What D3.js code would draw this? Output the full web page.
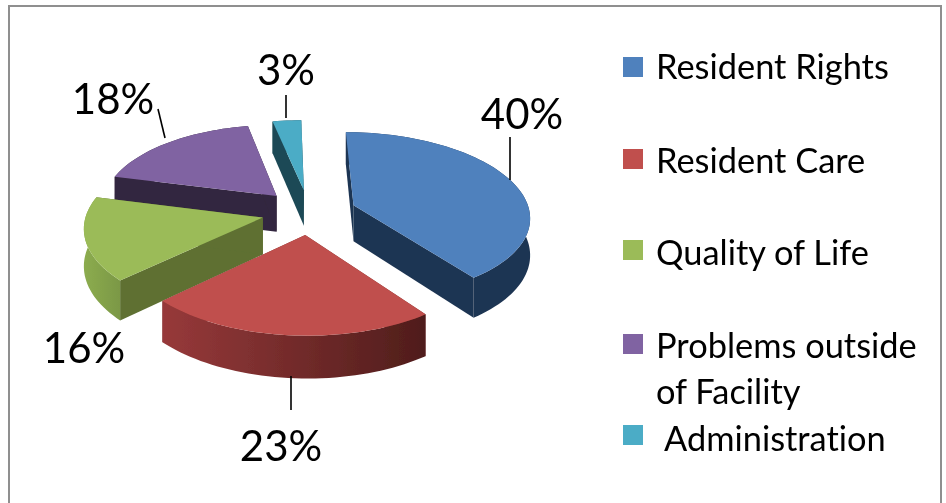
<!DOCTYPE html>
<html><head><meta charset="utf-8">
<script src="https://cdn.jsdelivr.net/npm/d3@7"></script>
<style>html,body{margin:0;padding:0;background:#fff;overflow:hidden}svg{display:block}text{font-family:Lato,"Open Sans",sans-serif;fill:#000;font-variant-ligatures:none}</style>
</head><body><div id="chart"></div>
<script>
const categories = ["Resident Rights","Resident Care","Quality of Life","Problems outside of Facility","Administration"];
const values = [40,23,16,18,3];
const tickLabels = ["40%","23%","16%","18%","3%"];
const topColors = ["#4f81bd","#c0504d","#9bbb59","#8064a2","#4bacc6"];
const innerWallColors = ["#1f3552","#7a2f2d","#5e7032","#33263f","#1f4a56"];
const outerWallLeft = ["#1f3552","#97393a","#8cac4f","#33263f","#1f4a56"];
const outerWallRight = ["#1f3552","#4f1d1b","#7b9845","#33263f","#1f4a56"];
const legendRows = [["Resident Rights"],["Resident Care"],["Quality of Life"],["Problems outside","of Facility"],[" Administration"]];

const W=946,H=503;
const svg=d3.select("#chart").append("svg").attr("width",W).attr("height",H);
const defs=svg.append("defs");
const soft=defs.append("filter").attr("id","soft").attr("filterUnits","userSpaceOnUse")
  .attr("x",0).attr("y",0).attr("width",W).attr("height",H);
soft.append("feGaussianBlur").attr("stdDeviation",0.45);

// frame
svg.append("path").attr("d","M9,503V6H941V503").attr("fill","none").attr("stroke","#8f8f8f").attr("stroke-width",2);

// pie layout
const pie=d3.pie().sort(null).value(d=>d).startAngle(0).endAngle(2*Math.PI);
const arcs=pie(values);
const x0=309,y0=212,A=176,B=83,k=0.117,shear=3,explode=0.27,depth=36.5;
function project(X,Y,z){const s=1/(1+k*Y);return [x0+A*X*s-shear*Y,y0-B*Y*s+z*depth*s];}
function rimPoints(a,z){
  const mid=(a.startAngle+a.endAngle)/2,ox=explode*Math.sin(mid),oy=explode*Math.cos(mid);
  const n=Math.max(4,Math.ceil((a.endAngle-a.startAngle)*30));
  const t=d3.scaleLinear().domain([0,n]).range([a.startAngle,a.endAngle]);
  return d3.range(n+1).map(i=>project(ox+Math.sin(t(i)),oy+Math.cos(t(i)),z));
}
function apex(a,z){const mid=(a.startAngle+a.endAngle)/2;return project(explode*Math.sin(mid),explode*Math.cos(mid),z);}
const line=d3.line();
const pieG=svg.append("g").attr("filter","url(#soft)");
// painter order: back slices to front slices
const order=[4,3,2,0,1];
order.forEach(i=>{
  const a=arcs[i],top=rimPoints(a,0),bot=rimPoints(a,1),ap=apex(a,0),ab=apex(a,1);
  const g=pieG.append("g");
  const gid="wall"+i,ext=d3.extent(top.concat(bot),d=>d[0]);
  const grad=defs.append("linearGradient").attr("id",gid).attr("gradientUnits","userSpaceOnUse")
    .attr("x1",ext[0]).attr("x2",ext[1]).attr("y1",0).attr("y2",0);
  grad.append("stop").attr("offset",0).attr("stop-color",outerWallLeft[i]);
  grad.append("stop").attr("offset",1).attr("stop-color",outerWallRight[i]);
  // inner walls
  [[ap,top[0],bot[0]],[ap,top[top.length-1],bot[bot.length-1]]].forEach(([p,q,qb])=>{
    g.append("path").attr("d",line([p,q,qb,ab])+"Z").attr("fill",innerWallColors[i]);
  });
  // outer wall
  g.append("path").attr("d",line(top.concat(bot.slice().reverse()))+"Z").attr("fill",`url(#${gid})`);
  // top
  g.append("path").attr("d",line([ap].concat(top))+"Z").attr("fill",topColors[i]);
});

// leader lines
const leaders=[[510,137,510,180],[291,376,291,410],[165,138,158,109],[286,118,286,95]];
svg.append("g").selectAll("line").data(leaders).join("line")
  .attr("x1",d=>d[0]).attr("y1",d=>d[1]).attr("x2",d=>d[2]).attr("y2",d=>d[3])
  .attr("stroke","#000").attr("stroke-width",1.6);

const textG=svg.append("g").attr("filter","url(#soft)");
// data labels
const labelPos=[[522,129],[281,461],[84,363],[113,114],[286,85]];
textG.append("g").selectAll("text").data(tickLabels).join("text")
  .attr("x",(d,i)=>labelPos[i][0]).attr("y",(d,i)=>labelPos[i][1])
  .attr("text-anchor","middle").attr("font-size",42).text(d=>d);

// legend
const swatchY=[57,149,240,334,425];
const textY=[[79],[173],[265],[358,404],[451]];
categories.forEach((c,i)=>{
  textG.append("rect").attr("x",623).attr("y",swatchY[i]).attr("width",20).attr("height",20).attr("fill",topColors[i]);
  legendRows[i].forEach((r,j)=>{
    textG.append("text").attr("x",r.startsWith(" ")?664:656).attr("y",textY[i][j]).attr("font-size",34.4).text(r.trim());
  });
});
</script></body></html>
